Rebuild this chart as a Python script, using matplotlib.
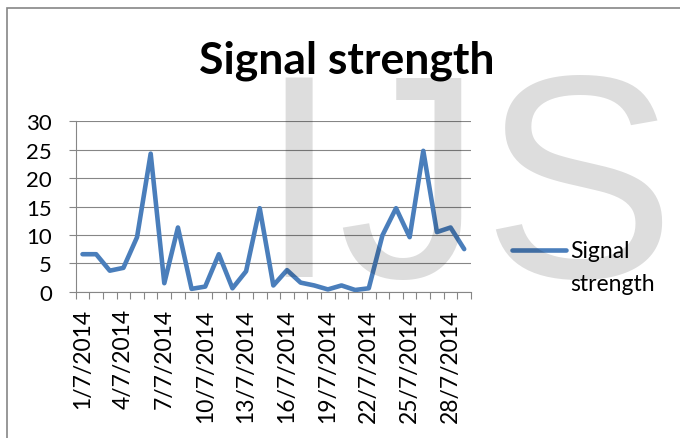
import numpy as np
import matplotlib.pyplot as plt
from matplotlib.lines import Line2D
from matplotlib.patches import Rectangle

plt.rcParams['font.family'] = 'Lato'

# daily signal strength, July 2014
dates = ['%d/7/2014' % d for d in range(1, 30)]
signal = [6.6, 6.6, 3.7, 4.2, 9.6, 24.3, 1.5, 11.3, 0.5, 0.9,
          6.6, 0.6, 3.6, 14.7, 1.1, 3.8, 1.6, 1.1, 0.4, 1.1,
          0.3, 0.6, 9.9, 14.7, 9.6, 24.8, 10.5, 11.3, 7.5]
yticks = [0, 5, 10, 15, 20, 25, 30]

W, H = 680, 439
line_col = '#4a7ebb'
axis_col = '#868686'

fig = plt.figure(figsize=(W / 100, H / 100), dpi=100)
fig.patch.set_facecolor('white')

def fx(px):
    return px / W

def fy(py):
    return 1 - py / H

# chart frame (left and top edges show)
fig.add_artist(Rectangle((fx(7), -0.5), 1.5, fy(9) + 0.5, transform=fig.transFigure,
                         fill=False, edgecolor=axis_col, lw=1.2))

ax = fig.add_axes([fx(75.7), fy(292.7), fx(471) - fx(75.7), fy(122.3) - fy(292.7)])
ax.patch.set_alpha(0)

x = np.arange(len(signal))
ax.plot(x, signal, color=line_col, lw=3.3, solid_joinstyle='round',
        solid_capstyle='round', zorder=3)

ax.set_xlim(-0.5, len(signal) - 0.5)
ax.set_ylim(0, 30)
ax.set_yticks(yticks)
ax.set_xticks(np.arange(-0.5, len(signal), 1))
ax.set_xticks(x[::3], minor=True)
ax.set_xticklabels(dates[::3], minor=True, rotation=90)
ax.tick_params(axis='x', which='major', length=5, width=0.8, color=axis_col,
               labelbottom=False)
ax.tick_params(axis='x', which='minor', length=0, pad=12, labelsize=16.5)
ax.tick_params(axis='y', length=5, width=0.8, color=axis_col, pad=12, labelsize=16)
ax.grid(axis='y', color=axis_col, lw=0.8)
ax.set_axisbelow(True)
for s in ['top', 'right']:
    ax.spines[s].set_visible(False)
for s in ['left', 'bottom']:
    ax.spines[s].set_color(axis_col)
    ax.spines[s].set_linewidth(0.8)

fig.text(fx(346.5), fy(73.3), 'Signal strength', ha='center', va='baseline',
         fontsize=32, fontweight='bold')

# legend
fig.add_artist(Line2D([fx(512), fx(566)], [fy(251), fy(251)], color=line_col, lw=3.3,
                      solid_capstyle='round', transform=fig.transFigure))
fig.text(fx(570.5), fy(258), 'Signal', ha='left', va='baseline', fontsize=16.5)
fig.text(fx(570.5), fy(291.5), 'strength', ha='left', va='baseline', fontsize=16.5)

# watermark letters
fig.text(fx(258), fy(277), 'IJS', ha='left', va='baseline', fontsize=208,
         family='Liberation Sans', color='black', alpha=0.135, zorder=10)

fig.savefig('out.png', dpi=100)
